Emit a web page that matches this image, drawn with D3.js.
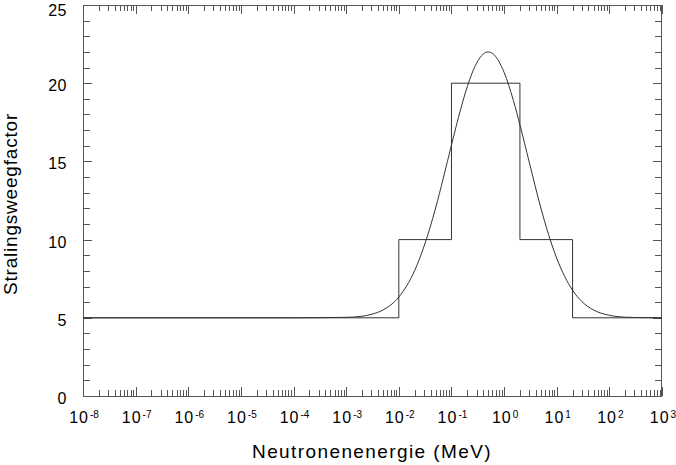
<!DOCTYPE html>
<html><head><meta charset="utf-8">
<script src="https://cdn.jsdelivr.net/npm/d3@7"></script>
<style>body{margin:0;background:#fff}svg{display:block}text{font-family:"Liberation Sans",Arial,Helvetica,sans-serif;fill:#000}</style>
</head><body><svg id="c" width="676" height="465"></svg>
<script>
// step function (bin edges and values)
const stepEdges = [1e-8, 1e-2, 1e-1, 2, 20, 1e3];
const stepValues = [5, 10, 20, 10, 5, 5];
// smooth curve
const curveE = [1e-8, 1e-4, 1e-3, 2e-3, 3e-3, 5e-3, 1e-2, 2e-2, 3e-2, 5e-2, 7e-2, 0.1, 0.15, 0.2, 0.3, 0.4, 0.5, 0.65, 0.8, 1, 1.5, 2, 3, 5, 7, 10, 20, 30, 50, 100, 200, 300, 1000];
const curveW = [5, 5, 5.03, 5.1, 5.22, 5.5, 6.33, 8.02, 9.55, 12.02, 13.93, 16.04, 18.35, 19.78, 21.28, 21.86, 22, 21.81, 21.38, 20.69, 18.9, 17.34, 14.96, 12.02, 10.32, 8.81, 6.76, 6.04, 5.5, 5.16, 5.04, 5.02, 5];
const xDecades = [-8, -7, -6, -5, -4, -3, -2, -1, 0, 1, 2, 3];
const yTicks = [0, 5, 10, 15, 20, 25];

const svg = d3.select("#c");
const L = 83, R = 662, T = 5, B = 396;
const x = d3.scaleLog().domain([1e-8, 1e3]).range([L, R]);
const y = d3.scaleLinear().domain([0, 25]).range([B, T]);
const tickCol = "#555", lineCol = "#333";

// minor/major x ticks (top and bottom, inward)
const g = svg.append("g").attr("stroke", tickCol).attr("stroke-width", 1);
xDecades.forEach((d, i) => {
  for (let m = 1; m <= 9; m++) {
    if (i === xDecades.length - 1 && m > 1) break;
    const v = m * Math.pow(10, d);
    const px = Math.round(x(v)) + 0.5;
    const len = m === 1 ? 9 : 6;
    g.append("line").attr("x1", px).attr("x2", px).attr("y1", B).attr("y2", B - len);
    g.append("line").attr("x1", px).attr("x2", px).attr("y1", T).attr("y2", T + len);
  }
});
// y ticks every 1 unit
d3.range(0, 26).forEach(v => {
  const py = Math.round(y(v)) + 0.5;
  const len = v % 5 === 0 ? 9 : 7;
  g.append("line").attr("x1", L).attr("x2", L + len).attr("y1", py).attr("y2", py);
  g.append("line").attr("x1", R).attr("x2", R - len).attr("y1", py).attr("y2", py);
});
// frame
svg.append("rect").attr("x", L + 0.5).attr("y", T + 0.5).attr("width", R - L - 1).attr("height", B - T)
  .attr("fill", "none").attr("stroke", tickCol);

// y labels
yTicks.forEach(v => {
  svg.append("text").attr("x", 67).attr("y", Math.max(y(v) + 8, 16)).attr("text-anchor", "end")
    .attr("font-size", 16).attr("letter-spacing", 0.5).text(v);
});
// x labels
xDecades.forEach(d => {
  const t = svg.append("text").attr("x", x(Math.pow(10, d)) + 1).attr("y", 423)
    .attr("text-anchor", "middle").attr("font-size", 16);
  t.append("tspan").attr("letter-spacing", 1).text("10");
  t.append("tspan").attr("font-size", 10).attr("dx", 1).attr("dy", -5).text(d);
});

// step line
const stepData = stepEdges.map((e, i) => [e, stepValues[i]]);
svg.append("path").datum(stepData)
  .attr("d", d3.line().x(d => x(d[0])).y(d => y(d[1])).curve(d3.curveStepAfter))
  .attr("fill", "none").attr("stroke", lineCol).attr("stroke-width", 1);
// smooth curve
const cData = curveE.map((e, i) => [e, curveW[i]]);
svg.append("path").datum(cData)
  .attr("d", d3.line().x(d => x(d[0])).y(d => y(d[1])).curve(d3.curveMonotoneX))
  .attr("fill", "none").attr("stroke", lineCol).attr("stroke-width", 1);

// titles
svg.append("text").attr("x", 372).attr("y", 458).attr("text-anchor", "middle").attr("font-size", 19)
  .attr("letter-spacing", 1.4).text("Neutronenenergie (MeV)");
svg.append("text").attr("transform", "translate(17,204) rotate(-90)").attr("text-anchor", "middle")
  .attr("font-size", 19).attr("letter-spacing", 0.8).text("Stralingsweegfactor");
</script></body></html>
